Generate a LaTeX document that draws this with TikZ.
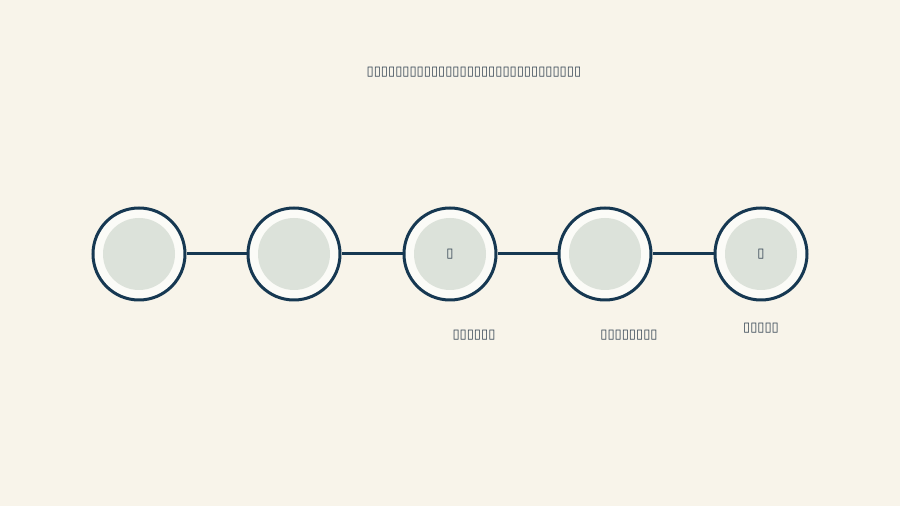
\documentclass[tikz,border=0pt]{standalone}
\usepackage{fontspec}
\newfontfamily\boxfont{DejaVu Sans}
\definecolor{pagecream}{RGB}{248,244,234}
\definecolor{stepnavy}{RGB}{22,56,82}
\definecolor{ringwhite}{RGB}{251,251,247}
\definecolor{coregray}{RGB}{220,226,218}
\definecolor{labelgray}{RGB}{46,62,78}
\tikzset{
  step-ring/.style={
    circle,
    draw=stepnavy,
    line width=3pt,
    fill=ringwhite,
    minimum size=92pt,
    inner sep=0pt
  },
  step-core/.style={circle, fill=coregray, minimum size=72pt, inner sep=0pt},
  step-link/.style={draw=stepnavy, line width=3pt},
  step-label/.style={font=\boxfont\fontsize{13}{15}\selectfont, text=labelgray, inner sep=0pt}
}

\begin{document}
\begin{tikzpicture}[x=1pt,y=1pt]
  \fill[pagecream] (0,0) rectangle (900,506);
  \useasboundingbox (0,0) rectangle (900,506);
  % Title
  \node[step-label] (title) at (474,434) {▯▯▯▯▯▯▯▯▯▯▯▯▯▯▯▯▯▯▯▯▯▯▯▯▯▯▯▯▯▯};
  % Steps
  \foreach \i/\x in {1/139,2/294,3/450,4/605,5/761}{
    \node[step-ring] (ring\i) at (\x,252) {};
    \node[step-core] (core\i) at (\x,252) {};
  }
  % Links
  \foreach \i/\j in {1/2,2/3,3/4,4/5}{
    \draw[step-link] (ring\i) -- (ring\j);
  }
  % Marks in circles
  \node[step-label] (mark3) at (core3) {▯};
  \node[step-label] (mark5) at (core5) {▯};
  % Labels
  \node[step-label] (label3) at (474,171) {▯▯▯▯▯▯};
  \node[step-label] (label4) at (629,171) {▯▯▯▯▯▯▯▯};
  \node[step-label] (label5) at (761,178) {▯▯▯▯▯};
\end{tikzpicture}
\end{document}
